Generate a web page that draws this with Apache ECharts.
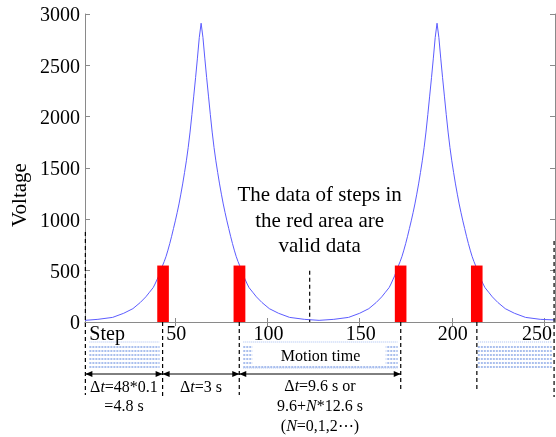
<!DOCTYPE html>
<html>
<head>
<meta charset="utf-8">
<script src="https://cdn.jsdelivr.net/npm/echarts@6/dist/echarts.min.js"></script>
<style>
  html, body { margin: 0; padding: 0; background: #ffffff; }
  #chart { width: 556px; height: 437px; }
</style>
</head>
<body>
<div id="chart"></div>
<script>
// step index vs. voltage
const stepX = [
  1, 8, 16, 22, 27, 31, 34, 36, 38, 39, 40, 41, 42, 43, 44, 45, 46, 47, 48, 49, 50, 51, 52, 53, 54, 55, 56, 57, 58, 59, 60, 61, 62, 63, 64,
  65, 66, 67, 68, 69, 70, 71, 72, 73, 74, 75, 76, 77, 78, 79, 80, 81, 82, 83, 84, 85, 86, 87, 88, 89, 90, 92, 94, 97, 101, 106, 112, 120, 128,
  136, 144, 150, 155, 159, 162, 164, 166, 167, 168, 169, 170, 171, 172, 173, 174, 175, 176, 177, 178, 179, 180, 181, 182, 183, 184, 185, 186, 187, 188, 189, 190, 191, 192,
  193, 194, 195, 196, 197, 198, 199, 200, 201, 202, 203, 204, 205, 206, 207, 208, 209, 210, 211, 212, 213, 214, 215, 216, 217, 218, 220, 222, 225, 229, 234, 240, 248, 256
];
const voltage = [
  16, 26, 45, 85, 130, 190, 245, 290, 335, 370, 410, 450, 500, 546, 590, 640, 700, 765, 835, 910, 985, 1065, 1150, 1245, 1345, 1455, 1570, 1700, 1850, 2020, 2200, 2380, 2570, 2770, 2910,
  2770, 2570, 2380, 2200, 2020, 1850, 1700, 1570, 1455, 1345, 1245, 1150, 1065, 985, 910, 835, 765, 700, 640, 590, 546, 500, 450, 410, 370, 335, 290, 245, 190, 130, 85, 45, 26, 16,
  26, 45, 85, 130, 190, 245, 290, 335, 370, 410, 450, 500, 546, 590, 640, 700, 765, 835, 910, 985, 1065, 1150, 1245, 1345, 1455, 1570, 1700, 1850, 2020, 2200, 2380, 2570, 2770, 2910,
  2770, 2570, 2380, 2200, 2020, 1850, 1700, 1570, 1455, 1345, 1245, 1150, 1065, 985, 910, 835, 765, 700, 640, 590, 546, 500, 450, 410, 370, 335, 290, 245, 190, 130, 85, 45, 26, 20
];

const xTicks = [50, 100, 150, 200, 250];
const yTicks = [0, 500, 1000, 1500, 2000, 2500, 3000];

// red "valid data" areas
const barLeft = [40.2, 81.6, 169.1, 210.4];
const barRight = [46.5, 88.0, 175.4, 216.7];
const barTop = 550;

// dashed guide lines
const guideX = [1.2, 43.1, 84.7, 122.9, 172.3, 213.6, 255.5];
const guideTop = [877, 0, 0, 500, 0, 0, 790];

const yName = 'Voltage';
const stepLabel = 'Step';
const noteText = 'The data of steps in\nthe red area are\nvalid data';
const motionLabel = 'Motion time';
const spanText = [
  'Δ{i|t}=48*0.1\n=4.8 s',
  'Δ{i|t}=3 s',
  'Δ{i|t}=9.6 s or\n9.6+{i|N}*12.6 s\n({i|N}=0,1,2⋯)'
];

// layout (pixels below the x axis)
const guideDrop = [73, 74, 73, 0, 69, 69, 75];
const notePos = [128.3, 980];

const serif = 'Liberation Serif';
const axisGray = '#8a8a8a';

const chart = echarts.init(document.getElementById('chart'));

function txt(x, y, text, size, align, vAlign, lh, extra) {
  const rich = { i: { fontStyle: 'italic', fontFamily: serif, fontSize: size, lineHeight: lh, fill: '#000' } };
  return Object.assign({
    type: 'text', x: x, y: y,
    style: {
      text: text, fill: '#000', fontFamily: serif, fontSize: size,
      align: align, verticalAlign: vAlign, textAlign: align, textVerticalAlign: vAlign,
      lineHeight: lh, rich: rich
    }
  }, extra || {});
}

function arrow(x1, x2, y) {
  return [
    { type: 'line', shape: { x1: x1, y1: y, x2: x2, y2: y }, style: { stroke: '#000', lineWidth: 1 } },
    { type: 'polygon', shape: { points: [[x1, y], [x1 + 7, y - 3], [x1 + 7, y + 3]] }, style: { fill: '#000' } },
    { type: 'polygon', shape: { points: [[x2, y], [x2 - 7, y - 3], [x2 - 7, y + 3]] }, style: { fill: '#000' } }
  ];
}

function renderNotes(params, api) {
  const base = api.coord([guideX[0], 0])[1];
  const left = api.coord([1, 0])[0];
  const gx = guideX.map(x => api.coord([x, 0])[0]);
  const kids = [];

  // tick labels (serif, drawn from the axis scales)
  xTicks.forEach(v => {
    const p = api.coord([v, 0]);
    kids.push(txt(p[0] + (v === 250 ? -7 : 1), base + 13, String(v), 20, 'center', 'middle', 20));
  });
  yTicks.forEach(v => {
    const p = api.coord([1, v]);
    kids.push(txt(left - 5, p[1] + 2, String(v), 20, 'right', 'middle', 20));
  });

  // hatched boxes
  const boxes = [[gx[0] + 4, gx[1] - 3, false], [gx[2] + 4, gx[4] - 3, true], [gx[5] + 1, gx[6] - 2, false]];
  boxes.forEach(([l, r, framed]) => {
    for (let k = 0; k < 6; k++) {
      const y = base + 25 + k * 4;
      kids.push({ type: 'line', shape: { x1: l, y1: y, x2: r, y2: y },
        style: { stroke: '#8eaae8', lineWidth: 1.3, lineDash: [2, 1] } });
    }
    if (framed) {
      kids.push({ type: 'rect', shape: { x: l + 9, y: base + 23, width: r - l - 21, height: 21 }, style: { fill: '#fff' } });
      kids.push({ type: 'line', shape: { x1: l, y1: base + 46, x2: r, y2: base + 46 },
        style: { stroke: '#a6bdf0', lineWidth: 1, lineDash: [1, 1] } });
      kids.push(txt((l + r) / 2, base + 35, motionLabel, 16, 'center', 'middle', 18));
    }
    kids.push({ type: 'line', shape: { x1: l, y1: base + 20, x2: r, y2: base + 20 },
      style: { stroke: '#a6bdf0', lineWidth: 1, lineDash: [1, 1] } });
  });

  // double arrows
  kids.push(...arrow(gx[0], gx[1], base + 52));
  kids.push(...arrow(gx[1], gx[2], base + 52));
  kids.push(...arrow(gx[2], gx[4], base + 52));

  // span texts
  kids.push(txt((gx[0] + gx[1]) / 2, base + 56, spanText[0], 16, 'center', 'top', 19.5));
  kids.push(txt((gx[1] + gx[2]) / 2, base + 56, spanText[1], 16, 'center', 'top', 19.5));
  kids.push(txt((gx[2] + gx[4]) / 2, base + 55, spanText[2], 16, 'center', 'top', 19.8));

  // labels
  kids.push(txt(gx[0] + 4, base + 13, stepLabel, 20, 'left', 'middle', 20));
  const np = api.coord(notePos);
  kids.push(txt(np[0], np[1], noteText, 21, 'center', 'middle', 25.5));
  kids.push(txt(left - 65, base - 127, yName, 21, 'center', 'middle', 21, { rotation: Math.PI / 2 }));

  return { type: 'group', children: kids };
}

const option = {
  animation: false,
  backgroundColor: '#ffffff',
  grid: { left: 85, top: 14, width: 470, height: 308 },
  xAxis: [
    {
      type: 'value', min: 1, max: 256, position: 'bottom',
      axisLine: { lineStyle: { color: axisGray, width: 1 } },
      axisTick: { inside: true, length: 4, customValues: xTicks, lineStyle: { color: axisGray } },
      axisLabel: { show: false },
      splitLine: { show: false }
    },
    {
      type: 'value', min: 1, max: 256, position: 'top',
      axisLine: { lineStyle: { color: axisGray, width: 1 } },
      axisTick: { inside: true, length: 4, customValues: xTicks, lineStyle: { color: axisGray } },
      axisLabel: { show: false },
      splitLine: { show: false }
    }
  ],
  yAxis: [
    {
      type: 'value', min: 0, max: 3000, interval: 500, position: 'left',
      axisLine: { show: true, lineStyle: { color: axisGray, width: 1 } },
      axisTick: { show: true, inside: true, length: 5, lineStyle: { color: axisGray } },
      axisLabel: { show: false },
      splitLine: { show: false }
    },
    {
      type: 'value', min: 0, max: 3000, interval: 500, position: 'right',
      axisLine: { show: true, lineStyle: { color: axisGray, width: 1 } },
      axisTick: { show: true, inside: true, length: 5, lineStyle: { color: axisGray } },
      axisLabel: { show: false },
      splitLine: { show: false }
    }
  ],
  series: [
    {
      name: 'Voltage', type: 'line', xAxisIndex: 0, yAxisIndex: 0,
      data: stepX.map((x, i) => [x, voltage[i]]),
      showSymbol: false, symbol: 'none',
      lineStyle: { color: '#5c5cff', width: 1 },
      z: 2
    },
    {
      name: 'valid', type: 'custom', xAxisIndex: 0, yAxisIndex: 0, z: 3,
      data: barLeft.map((l, i) => [l, barRight[i], barTop]),
      encode: { x: [0, 1], y: 2 },
      renderItem: (params, api) => {
        const p0 = api.coord([api.value(0), api.value(2)]);
        const p1 = api.coord([api.value(1), 0]);
        return { type: 'rect', shape: { x: p0[0], y: p0[1], width: p1[0] - p0[0], height: p1[1] - p0[1] },
          style: { fill: '#ff0000' } };
      }
    },
    {
      name: 'guides', type: 'custom', xAxisIndex: 0, yAxisIndex: 0, z: 4, clip: false,
      data: guideX.map((x, i) => [x, guideTop[i], i]),
      encode: { x: 0, y: 1 },
      renderItem: (params, api) => {
        const top = api.coord([api.value(0), api.value(1)]);
        const bottom = api.coord([api.value(0), 0]);
        const drop = guideDrop[api.value(2)];
        return { type: 'line', shape: { x1: top[0], y1: top[1], x2: top[0], y2: bottom[1] + drop },
          style: { stroke: '#000', lineWidth: 1.2, lineDash: [4, 3] } };
      }
    },
    {
      name: 'notes', type: 'custom', xAxisIndex: 0, yAxisIndex: 0, z: 5, clip: false,
      data: [[guideX[0], 0]],
      encode: { x: 0, y: 1 },
      renderItem: renderNotes
    }
  ]
};

chart.setOption(option);
</script>
</body>
</html>
